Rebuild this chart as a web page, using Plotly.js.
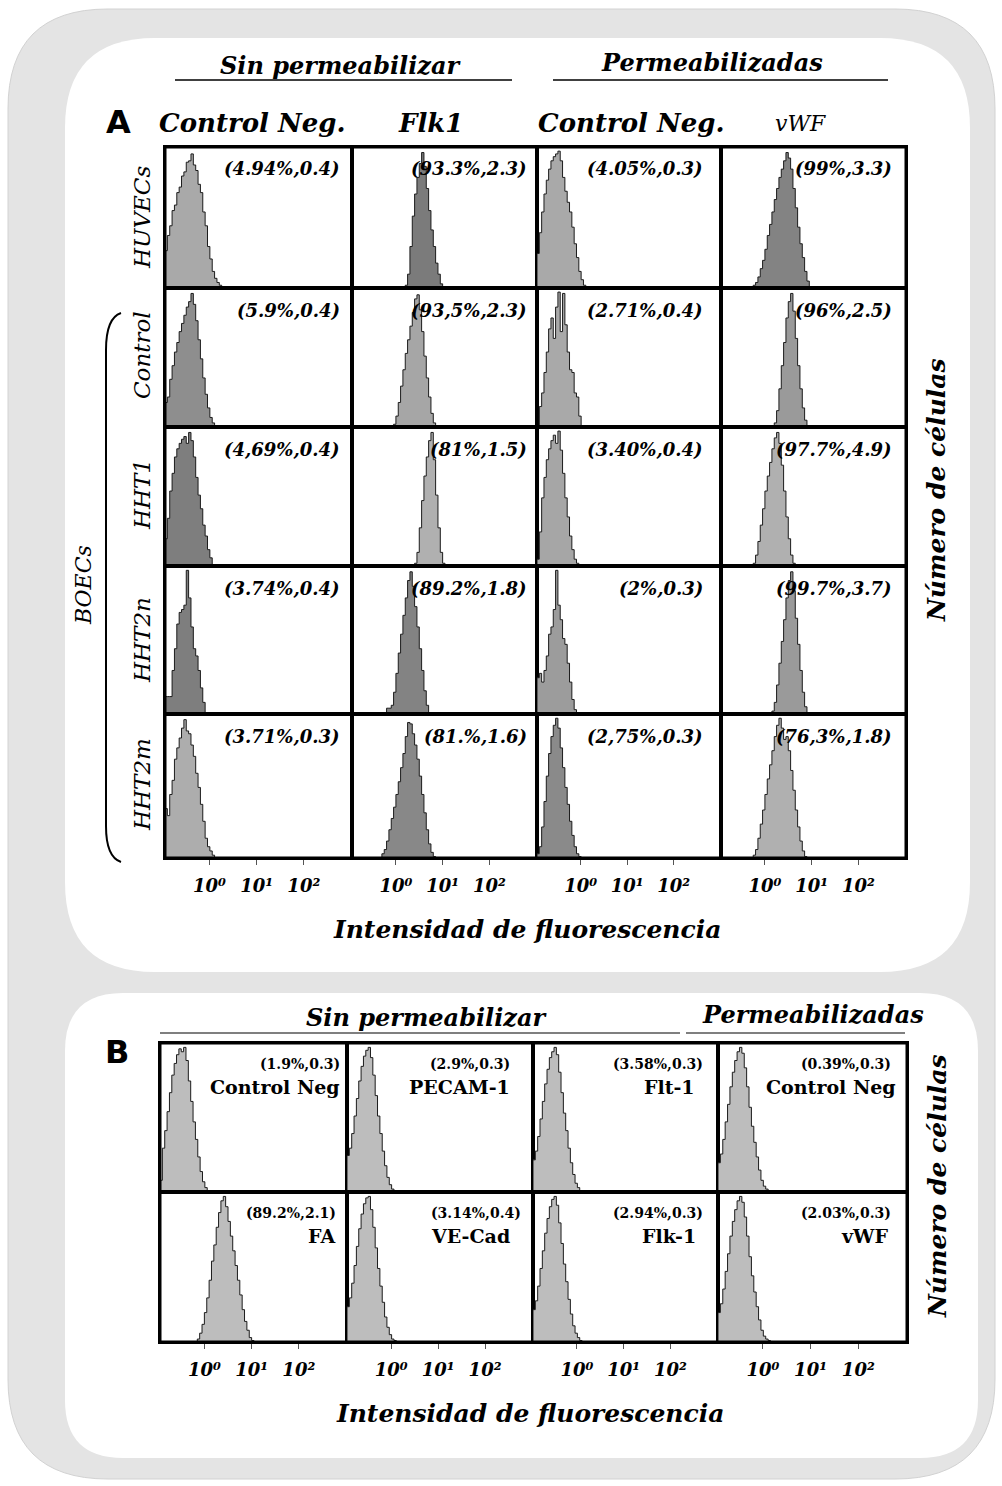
<!DOCTYPE html>
<html><head><meta charset="utf-8">
<script src="https://cdn.plot.ly/plotly-3.0.1.min.js"></script>
<style>html,body{margin:0;padding:0;background:#fff}</style>
</head><body><div id="chart" style="width:1002px;height:1486px"></div>
<script>
// ================= DATA =================
const colTitlesA = ['Control Neg.', 'Flk1', 'Control Neg.', 'vWF'];
const rowNamesA = ['HUVECs', 'Control', 'HHT1', 'HHT2n', 'HHT2m'];
const groupNameA = 'BOECs';
const statsA = [
  ['(4.94%,0.4)', '(93.3%,2.3)', '(4.05%,0.3)', '(99%,3.3)'],
  ['(5.9%,0.4)', '(93,5%,2.3)', '(2.71%,0.4)', '(96%,2.5)'],
  ['(4,69%,0.4)', '(81%,1.5)', '(3.40%,0.4)', '(97.7%,4.9)'],
  ['(3.74%,0.4)', '(89.2%,1.8)', '(2%,0.3)', '(99.7%,3.7)'],
  ['(3.71%,0.3)', '(81.%,1.6)', '(2,75%,0.3)', '(76,3%,1.8)']
];
const markersB = [['Control Neg', 'PECAM-1', 'Flt-1', 'Control Neg'], ['FA', 'VE-Cad', 'Flk-1', 'vWF']];
const statsB = [['(1.9%,0.3)', '(2.9%,0.3)', '(3.58%,0.3)', '(0.39%,0.3)'], ['(89.2%,2.1)', '(3.14%,0.4)', '(2.94%,0.3)', '(2.03%,0.3)']];
const tickValues = [1, 10, 100];
const tickLabels = ['10⁰', '10¹', '10²'];

// histogram channels: first channel (log10 of intensity) and counts (relative, % of peak)
const binStep = 0.05;
const startA = [
  [-0.94, 0.20, -0.94, -0.25],
  [-0.94, -0.05, -0.94, 0.20],
  [-0.94, 0.40, -0.94, -0.25],
  [-0.94, -0.20, -0.94, 0.15],
  [-0.94, -0.30, -0.94, -0.25]
];
const countsHUVECs = [
  [27,38,45,56,60,69,73,81,84,91,92,97,89,85,75,69,55,45,30,21,12,7,4,2,1],
  [2,10,30,52,68,80,90,98,88,72,56,42,30,18,10,3],
  [25,40,55,68,78,86,92,95,97,99,92,80,70,62,55,44,32,22,12,6,2],
  [2,4,8,14,20,28,38,46,55,64,72,80,86,92,98,94,86,72,58,44,32,22,12,5,1]
];
const countsControl = [
  [18,22,35,45,55,62,70,76,82,88,92,98,90,78,64,50,36,24,14,7,3,1],
  [2,8,18,30,42,54,64,74,84,94,97,86,70,52,36,22,10,3],
  [0,15,25,40,55,72,80,65,88,99,70,98,75,55,42,40,25,22,8],
  [3,12,28,45,62,80,92,98,85,65,45,28,14,5,1]
];
const countsHHT1 = [
  [20,35,55,68,80,86,90,93,95,90,98,92,80,65,52,42,30,22,12,6,1],
  [2,10,28,48,66,80,92,98,78,52,28,10,2],
  [5,25,50,65,78,86,92,96,90,99,85,68,50,36,22,12,5,2],
  [2,8,18,30,42,55,66,76,86,94,98,90,74,55,36,20,8,2]
];
const countsHHT2n = [
  [12,12,12,30,45,62,70,72,75,99,80,60,45,40,30,18,8],
  [4,4,6,15,28,42,55,68,80,92,98,88,74,60,45,30,16,6,1],
  [25,28,22,30,40,55,60,72,99,75,65,52,48,35,22,10,3],
  [2,8,20,35,50,65,80,92,98,85,66,48,30,15,5,1]
];
const countsHHT2m = [
  [35,30,45,55,70,78,85,92,98,90,88,80,72,60,50,38,26,14,8,5,2],
  [3,6,12,20,28,36,45,54,64,74,86,96,95,88,80,70,58,45,32,20,10,4,1],
  [3,8,22,40,58,74,86,94,99,92,78,64,50,38,26,16,8,3,1],
  [2,6,14,24,34,45,56,66,76,86,94,99,92,84,86,76,62,48,34,22,12,5,1]
];
const startB = [[-0.94, -0.94, -0.94, -0.94], [-0.15, -0.94, -0.94, -0.94]];
const countsBTop = [
  [8,30,42,55,68,80,88,94,98,96,99,90,76,62,48,36,24,14,7,3,1],
  [25,30,40,52,64,76,86,93,97,99,92,80,66,52,40,28,18,10,5,2,1],
  [22,28,38,50,62,74,84,92,96,99,94,82,68,54,42,30,20,12,6,3,1],
  [20,26,36,48,60,72,82,90,96,99,95,85,72,58,45,34,24,15,8,4,2,1]
];
const countsBBottom = [
  [2,6,12,20,30,42,55,66,78,88,96,99,92,82,72,62,52,42,32,22,14,8,3,1],
  [24,30,40,52,65,77,87,94,98,99,90,78,64,50,38,27,17,10,5,2,1],
  [22,28,38,50,62,74,84,92,97,99,93,81,67,53,41,29,19,11,6,3,1],
  [20,26,36,48,60,72,82,90,96,99,95,85,72,58,45,34,24,15,8,4,2,1]
];
const countsA = [countsHUVECs, countsControl, countsHHT1, countsHHT2n, countsHHT2m];
const countsB = [countsBTop, countsBBottom];

// ================= STYLE / LAYOUT =================
const W = 1002, H = 1486;
const fx = p => p / W, fy = p => 1 - p / H;
const SERIF = 'DejaVu Serif';
const colEdgesA = [165, 352, 537, 721, 906], rowEdgesA = [147, 288, 427, 566, 714, 858];
const colEdgesB = [160, 347, 533, 718, 907], rowEdgesB = [1043, 1192, 1342];
const xLogRange = [-0.94, 3.02];
const fillA = [
  ['#a9a9a9', '#7b7b7b', '#a9a9a9', '#838383'],
  ['#8e8e8e', '#a6a6a6', '#a9a9a9', '#9a9a9a'],
  ['#7e7e7e', '#b0b0b0', '#a6a6a6', '#b0b0b0'],
  ['#7e7e7e', '#838383', '#9c9c9c', '#9a9a9a'],
  ['#adadad', '#888888', '#8a8a8a', '#b0b0b0']
];
const fillB = '#bdbdbd';
const statInsetA = [10, 8, 16, 12];
const statRightB = [[342, 512, 705, 893], [338, 523, 705, 893]];
const markerRightB = [[342, 512, 697, 898], [337, 512, 698, 890]];
const F = (size, weight, style, family) => ({family: family || SERIF, size: size, color: '#000', weight: weight || 'normal', style: style || 'normal'});

const traces = [];
const layout = {
  width: W, height: H, margin: {l: 0, r: 0, t: 0, b: 0},
  paper_bgcolor: '#ffffff', plot_bgcolor: '#ffffff', showlegend: false,
  annotations: [], shapes: []
};
let k = 0;
function addPanel(x0, x1, y0, y1, start, counts, color, showTicks) {
  k++;
  const sx = k === 1 ? '' : String(k);
  const xs = [Math.pow(10, start - binStep)], ys = [0];
  counts.forEach((v, i) => { xs.push(Math.pow(10, start + i * binStep)); ys.push(v); });
  xs.push(Math.pow(10, start + counts.length * binStep)); ys.push(0);
  traces.push({
    type: 'scatter', mode: 'lines', x: xs, y: ys, xaxis: 'x' + sx, yaxis: 'y' + sx,
    fill: 'tozeroy', fillcolor: color, line: {color: '#1c1c1c', width: 1, shape: 'hv'}, hoverinfo: 'skip'
  });
  const xa = {
    domain: [fx(x0), fx(x1)], anchor: 'y' + sx, type: 'log', range: xLogRange,
    showline: true, mirror: true, linewidth: 2, linecolor: '#000', showgrid: false, zeroline: false,
    fixedrange: true
  };
  if (showTicks) {
    Object.assign(xa, {tickmode: 'array', tickvals: tickValues, ticktext: tickLabels, showticklabels: true,
      ticks: 'outside', ticklen: 5, tickwidth: 1, tickcolor: '#555', ticklabelstandoff: 5,
      tickfont: F(18, 'bold', 'italic')});
  } else {
    Object.assign(xa, {showticklabels: false, ticks: ''});
  }
  layout['xaxis' + sx] = xa;
  layout['yaxis' + sx] = {
    domain: [fy(y1), fy(y0)], anchor: 'x' + sx, range: [0, 102],
    showline: true, mirror: true, linewidth: 2, linecolor: '#000', showgrid: false, zeroline: false,
    showticklabels: false, ticks: '', fixedrange: true
  };
}
function ann(text, px, py, font, opts) {
  layout.annotations.push(Object.assign({xref: 'paper', yref: 'paper', x: fx(px), y: fy(py),
    xanchor: 'center', yanchor: 'middle', showarrow: false, text: text, font: font}, opts || {}));
}
// panel A
for (let r = 0; r < 5; r++) for (let c = 0; c < 4; c++) {
  addPanel(colEdgesA[c], colEdgesA[c + 1], rowEdgesA[r], rowEdgesA[r + 1], startA[r][c], countsA[r][c], fillA[r][c], r === 4);
  ann(statsA[r][c], colEdgesA[c + 1] - statInsetA[c], rowEdgesA[r] + 22, F(18, 'bold', 'italic'), {xanchor: 'right'});
}
// panel B
for (let r = 0; r < 2; r++) for (let c = 0; c < 4; c++) {
  addPanel(colEdgesB[c], colEdgesB[c + 1], rowEdgesB[r], rowEdgesB[r + 1], startB[r][c], countsB[r][c], fillB, r === 1);
  ann(statsB[r][c], statRightB[r][c], rowEdgesB[r] + 21, F(14, 'bold'), {xanchor: 'right'});
  ann(markersB[r][c], markerRightB[r][c], rowEdgesB[r] + 44, F(19, 'bold'), {xanchor: 'right'});
}

// panel A texts
ann('Sin permeabilizar', 340, 66, F(24, 'bold', 'italic'));
ann('Permeabilizadas', 712, 63, F(24, 'bold', 'italic'));
ann('A', 118, 122, F(32, 'bold', 'normal', 'DejaVu Sans'));
const colTitleX = [252, 430, 631, 800];
colTitlesA.forEach((t, i) => {
  if (i === 3) ann(t, colTitleX[i], 124, F(22, 'normal', 'italic'));
  else ann(t, colTitleX[i], 123, F(26, 'bold', 'italic'));
});
const rowLabelY = [218, 355, 495, 640, 785];
rowNamesA.forEach((t, i) => ann(t, 142, rowLabelY[i], F(23, 'normal', 'italic'), {textangle: -90}));
ann(groupNameA, 83, 585, F(22, 'normal', 'italic'), {textangle: -90});
ann('Número de células', 937, 490, F(25, 'bold', 'italic'), {textangle: -90});
ann('Intensidad de fluorescencia', 527, 930, F(25, 'bold', 'italic'));
// panel B texts
ann('Sin permeabilizar', 426, 1017, F(24, 'bold', 'italic'));
ann('Permeabilizadas', 813, 1015, F(24, 'bold', 'italic'));
ann('B', 117, 1052, F(32, 'bold', 'normal', 'DejaVu Sans'));
ann('Número de células', 937, 1186, F(25, 'bold', 'italic'), {textangle: -90});
ann('Intensidad de fluorescencia', 530, 1413, F(25, 'bold', 'italic'));

// shapes
function rr(x0, y0, x1, y1, r) {
  const P = (x, y) => fx(x) + ',' + fy(y);
  return 'M' + P(x0 + r, y0) + ' L' + P(x1 - r, y0) + ' Q' + P(x1, y0) + ' ' + P(x1, y0 + r) +
    ' L' + P(x1, y1 - r) + ' Q' + P(x1, y1) + ' ' + P(x1 - r, y1) +
    ' L' + P(x0 + r, y1) + ' Q' + P(x0, y1) + ' ' + P(x0, y1 - r) +
    ' L' + P(x0, y0 + r) + ' Q' + P(x0, y0) + ' ' + P(x0 + r, y0) + ' Z';
}
layout.shapes.push({type: 'path', xref: 'paper', yref: 'paper', layer: 'below', path: rr(8, 9, 995, 1479, 100),
  fillcolor: '#e4e4e4', line: {color: '#d2d2d2', width: 1}});
layout.shapes.push({type: 'path', xref: 'paper', yref: 'paper', layer: 'below', path: rr(65, 38, 970, 972, 90),
  fillcolor: '#ffffff', line: {width: 0}});
layout.shapes.push({type: 'path', xref: 'paper', yref: 'paper', layer: 'below', path: rr(65, 993, 978, 1458, 58),
  fillcolor: '#ffffff', line: {width: 0}});
function hline(x0, x1, y, w) {
  layout.shapes.push({type: 'line', xref: 'paper', yref: 'paper', x0: fx(x0), x1: fx(x1), y0: fy(y), y1: fy(y),
    line: {color: '#000', width: w}});
}
hline(175, 512, 80, 1.5); hline(553, 888, 80, 1.5);
hline(160, 680, 1033, 1.2); hline(686, 905, 1033, 1.2);
// frames
function frame(x0, y0, x1, y1) {
  layout.shapes.push({type: 'rect', xref: 'paper', yref: 'paper', x0: fx(x0), x1: fx(x1), y0: fy(y1), y1: fy(y0),
    line: {color: '#000', width: 3}, fillcolor: 'rgba(0,0,0,0)'});
}
frame(colEdgesA[0], rowEdgesA[0], colEdgesA[4], rowEdgesA[5]);
frame(colEdgesB[0], rowEdgesB[0], colEdgesB[4], rowEdgesB[2]);
// BOECs bracket
(function () {
  const P = (x, y) => fx(x) + ',' + fy(y);
  layout.shapes.push({type: 'path', xref: 'paper', yref: 'paper',
    path: 'M' + P(121, 313) + ' Q' + P(106, 318) + ' ' + P(106, 350) + ' L' + P(106, 826) + ' Q' + P(106, 857) + ' ' + P(121, 862),
    line: {color: '#000', width: 2}});
})();

Plotly.newPlot('chart', traces, layout, {displayModeBar: false, staticPlot: true});
</script></body></html>
